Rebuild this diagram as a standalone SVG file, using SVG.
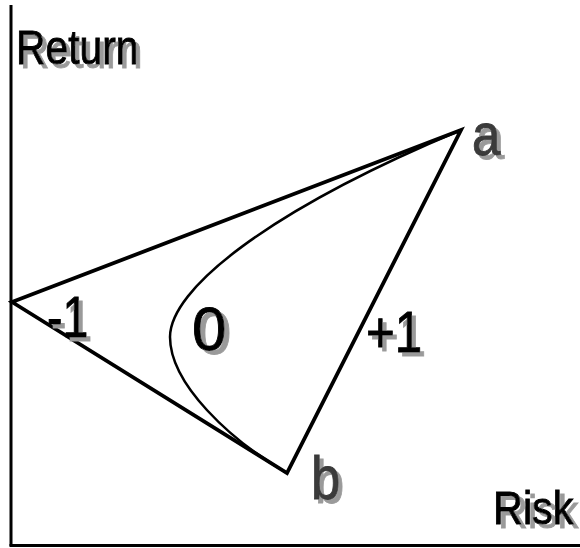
<svg xmlns="http://www.w3.org/2000/svg" width="580" height="548" viewBox="0 0 580 548">
<defs>
<filter id="ds" x="-20%" y="-20%" width="160%" height="160%">
<feOffset in="SourceAlpha" dx="5" dy="4" result="o"/>
<feFlood flood-color="#9a9a9a"/>
<feComposite in2="o" operator="in"/>
<feMerge><feMergeNode/><feMergeNode in="SourceGraphic"/></feMerge>
</filter>
</defs>
<style>
.t{font-family:"Liberation Sans",Arial,sans-serif;filter:url(#ds);stroke-width:0.9}
.fg{fill:#000;stroke:#000}
.fd{fill:#3a3a3a;stroke:#3a3a3a}
.ln{stroke:#000;stroke-width:3.8;fill:none;stroke-linejoin:miter;stroke-linecap:round}
.cv{stroke:#000;stroke-width:2.5;fill:none}
.ax{stroke:#000;stroke-width:3;fill:none}
</style>
<rect width="580" height="548" fill="#fff"/>
<g id="axes">
<line class="ax" x1="11" y1="5" x2="11" y2="546"/>
<line class="ax" x1="9.5" y1="545.5" x2="580" y2="545.5"/>
</g>
<g id="connectors">
<path class="ln" d="M12,302 L461,130 L287,473 Z"/>
<path class="cv" d="M461,130 C265,212 170,290 170,337 S230,440 287,473"/>
</g>
<g id="label-return">
<text class="t fg" font-size="48" transform="translate(16,64) scale(0.85,1)">Return</text>
</g>
<g id="label-a">
<text class="t fd" font-size="60" transform="translate(472,155) scale(0.85,1)">a</text>
</g>
<g id="label-b">
<text class="t fd" font-size="62" transform="translate(311,499) scale(0.85,1)">b</text>
</g>
<g id="label-minus1">
<text class="t fg" font-size="58" transform="translate(47,337) scale(0.8,1)">-1</text>
</g>
<g id="label-0">
<text class="t fg" font-size="62" transform="translate(192,350)">0</text>
</g>
<g id="label-plus1">
<text class="t fg" font-size="58" transform="translate(366,352) scale(0.85,1)">+1</text>
</g>
<g id="label-risk">
<text class="t fg" font-size="46" transform="translate(493,524) scale(0.9,1)">Risk</text>
</g>
</svg>
